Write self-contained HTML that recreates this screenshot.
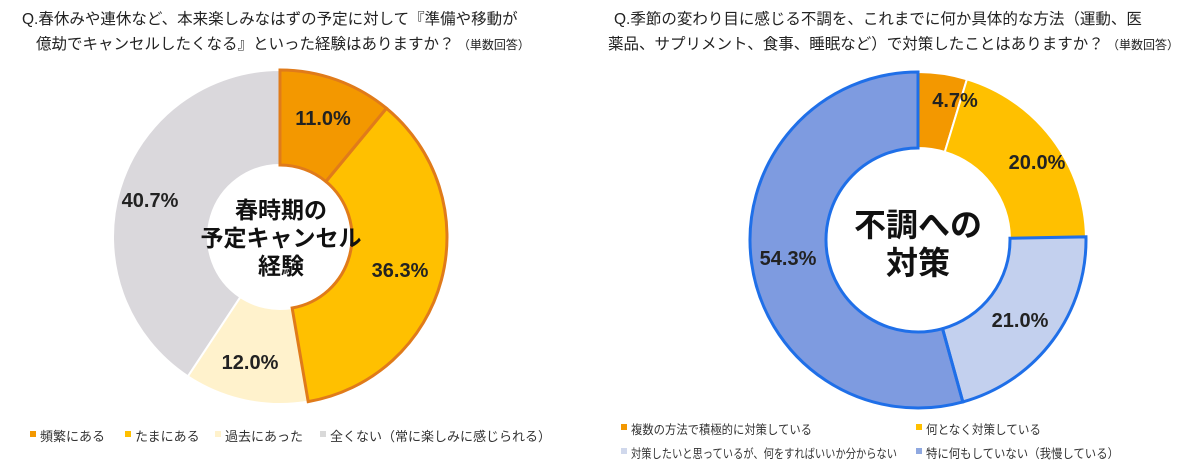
<!DOCTYPE html>
<html><head><meta charset="utf-8"><style>
body{margin:0;background:#fff;width:1200px;height:470px;overflow:hidden;font-family:"Liberation Sans","Noto Sans CJK JP",sans-serif;}
svg text{font-family:"Liberation Sans","Noto Sans CJK JP",sans-serif;}
</style></head><body>
<svg id="s" width="1200" height="470" xmlns="http://www.w3.org/2000/svg">
<g font-size="15.5" fill="#222">
<text x="22" y="24">Q.春休みや連休など、本来楽しみなはずの予定に対して『準備や移動が</text>
<text x="36" y="49">億劫でキャンセルしたくなる』といった経験はありますか？<tspan font-size="12"> （単数回答）</tspan></text>
<text x="614" y="24">Q.季節の変わり目に感じる不調を、これまでに何か具体的な方法（運動、医</text>
<text x="608" y="49">薬品、サプリメント、食事、睡眠など）で対策したことはありますか？<tspan font-size="12"> （単数回答）</tspan></text>
</g>
<g id="charts"></g>
<g font-size="20" font-weight="bold" fill="#222" text-anchor="middle">
<text x="323" y="125">11.0%</text>
<text x="400" y="277">36.3%</text>
<text x="250" y="369">12.0%</text>
<text x="150" y="207">40.7%</text>
<text x="955" y="107">4.7%</text>
<text x="1037" y="169">20.0%</text>
<text x="1020" y="327">21.0%</text>
<text x="788" y="265">54.3%</text>
</g>
<g font-size="23" font-weight="bold" fill="#111" text-anchor="middle">
<text x="281" y="218">春時期の</text>
<text x="281" y="246">予定キャンセル</text>
<text x="281" y="274">経験</text>
</g>
<g font-size="32" font-weight="bold" fill="#111" text-anchor="middle">
<text x="918" y="236">不調への</text>
<text x="918" y="274">対策</text>
</g>
<g font-size="13" fill="#333">
<rect x="30" y="431" width="6" height="6" fill="#F39800"/><text x="40" y="441">頻繁にある</text>
<rect x="125" y="431" width="6" height="6" fill="#FFC000"/><text x="135" y="441">たまにある</text>
<rect x="215" y="431" width="6" height="6" fill="#FFF2CC"/><text x="225" y="441">過去にあった</text>
<rect x="320" y="431" width="6" height="6" fill="#D9D9D9"/><text x="330" y="441">全くない（常に楽しみに感じられる）</text>
</g>
<g font-size="12.5" fill="#333">
<rect x="621" y="424" width="6" height="6" fill="#F39800"/><text x="631" y="434" textLength="181" lengthAdjust="spacingAndGlyphs">複数の方法で積極的に対策している</text>
<rect x="916" y="424" width="6" height="6" fill="#FFC000"/><text x="926" y="434" textLength="115" lengthAdjust="spacingAndGlyphs">何となく対策している</text>
<rect x="621" y="448" width="6" height="6" fill="#D0D8EC"/><text x="631" y="458" textLength="266" lengthAdjust="spacingAndGlyphs">対策したいと思っているが、何をすればいいか分からない</text>
<rect x="916" y="448" width="6" height="6" fill="#8FA8E0"/><text x="926" y="458" textLength="193" lengthAdjust="spacingAndGlyphs">特に何もしていない（我慢している）</text>
</g>
</svg>
<script>
function arc(cx,cy,R,r,a0,a1){
 function p(rad,a){a=(a-90)*Math.PI/180;return [cx+rad*Math.cos(a),cy+rad*Math.sin(a)];}
 var l=(a1-a0)>180?1:0,A=p(R,a0),B=p(R,a1),C=p(r,a1),D=p(r,a0);
 return "M"+A+" A"+R+","+R+" 0 "+l+" 1 "+B+" L"+C+" A"+r+","+r+" 0 "+l+" 0 "+D+"Z";
}
function donut(cx,cy,R,r,vals,cols,outline,oc){
 var g=document.getElementById("charts"),a=0,h="",ang=[0];
 vals.forEach(function(v,i){var b=a+v*3.6;h+='<path d="'+arc(cx,cy,R,r,a,b)+'" fill="'+cols[i]+'" stroke="#fff" stroke-width="2"/>';a=b;ang.push(a);});
 outline.forEach(function(i){h+='<path d="'+arc(cx,cy,R,r,ang[i],ang[i+1])+'" fill="none" stroke="'+oc+'" stroke-width="3"/>';});
 g.innerHTML+=h;
}
donut(280,237,167,72,[11,36.3,12,40.7],["#F39800","#FFC000","#FFF2CC","#DAD8DC"],[0,1],"#E07B1A");
donut(918,240,168,92,[4.7,20,21,54.3],["#F39800","#FFC000","#C3D0EE","#7E9BE0"],[2,3],"#1F6FE8");
</script>
</body></html>
